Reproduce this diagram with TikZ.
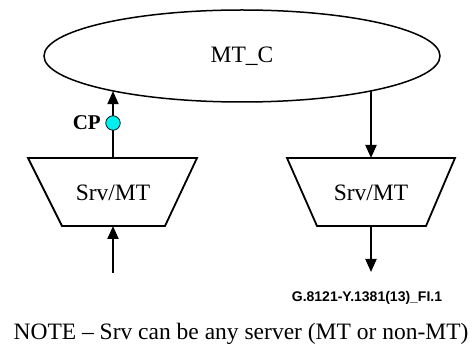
\documentclass[tikz,border=0pt]{standalone}
\usepackage{fontspec}
\setmainfont{Liberation Serif}
\newfontfamily\idfont{Liberation Sans}
\usetikzlibrary{shapes.geometric,arrows.meta}
\definecolor{cpcyan}{RGB}{0,240,240}
\begin{document}
\begin{tikzpicture}[x=1pt,y=-1pt,
  conn/.style={line width=2pt,-{Triangle[width=11pt,length=13pt]}},
  trapline/.style={draw,line width=1.8pt,line join=miter},
  lbl/.style={font=\fontsize{23.5}{28}\selectfont,inner sep=0pt},
]
\useasboundingbox (0,0) rectangle (475,347);
\node[draw,ellipse,line width=1.5pt,minimum width=396pt,minimum height=92pt,inner sep=0pt,
  font=\fontsize{23.5}{28}\selectfont] (E) at (242,56) {MT\_C};
% left trapezoid
\draw[trapline] (28,158) -- (197,158) -- (165,226) -- (62,226) -- cycle;
\node[lbl] (L) at (113,193) {Srv/MT};
\coordinate (Ltop) at (113,158);
\coordinate (Lbot) at (113,226);
% right trapezoid
\draw[trapline] (287,158) -- (455,158) -- (426,226) -- (317,226) -- cycle;
\node[lbl] (R) at (371,193) {Srv/MT};
\coordinate (Rtop) at (371,158);
\coordinate (Rbot) at (371,226);
\coordinate (Lin) at (113,273);
\coordinate (Rout) at (371,272);
\draw[conn] (Ltop) -- (Ltop |- E.195);
\draw[conn] (Rtop |- E.-15) -- (Rtop);
\draw[conn] (Lin) -- (Lbot);
\draw[conn] (Rbot) -- (Rout);
\node[circle,draw,line width=0.7pt,fill=cpcyan,minimum size=14.5pt,inner sep=0pt] (CP) at (113,123) {};
\node[anchor=east,font=\fontsize{21}{25}\selectfont\bfseries,inner sep=0pt] (CPl) at (101,123) {CP};
\node[font=\idfont\fontsize{14}{16}\selectfont\bfseries] (id) at (367,298) {G.8121-Y.1381(13)\_FI.1};
\node[font=\fontsize{23.5}{28}\selectfont,inner sep=0pt] (note) at (241,334) {NOTE -- Srv can be any server (MT or non-MT)};
\end{tikzpicture}
\end{document}
